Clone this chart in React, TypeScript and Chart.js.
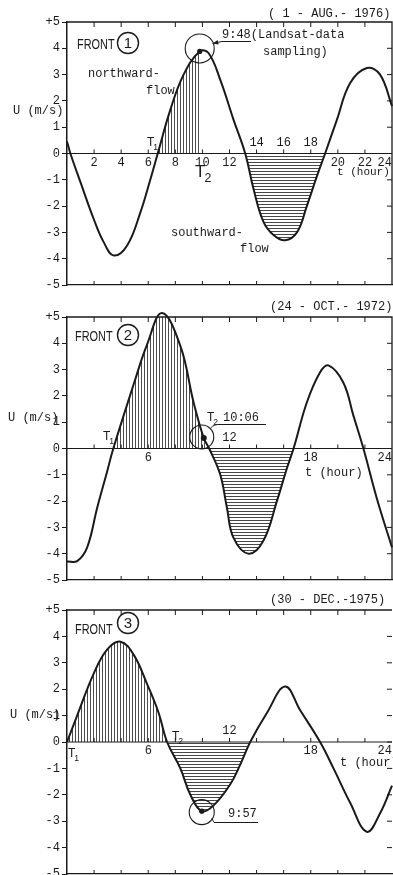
import React, { useEffect, useRef } from 'react';
import { Chart, registerables } from 'chart.js';

Chart.register(...registerables);

// ---------- DATA ----------
// FRONT 1 (1 - AUG. - 1976)
const hours1 = [0, 0.25, 1.0, 1.98, 2.71, 3.45, 4.44, 5.42, 6.16, 6.7, 7.63, 8.61, 9.8, 10.45, 11.32, 12.3, 13.16, 13.78, 14.51, 15.25, 16.1, 16.98, 17.71, 18.45, 19.06, 19.93, 20.9, 22.14, 23.12, 24.0];
const speed1 = [0.46, 0, -1.1, -2.5, -3.37, -3.88, -3.5, -2.24, -0.98, 0, 1.66, 3.0, 3.88, 3.82, 2.8, 1.28, 0, -1.36, -2.6, -3.1, -3.3, -3.0, -2.0, -0.87, 0, 1.28, 2.67, 3.25, 3.0, 1.8];
const north1: [number, number] = [6.7, 9.8];
const south1: [number, number] = [13.16, 19.06];
const landsatTime1 = 9.8;
const hourLabels1 = [2, 4, 6, 8, 10, 12, 14, 16, 18, 20, 22, 24];

// FRONT 2 (24 - OCT. - 1972)
const hours2 = [0, 0.75, 1.49, 2.23, 2.96, 3.42, 4.93, 5.91, 7.02, 8.37, 9.35, 10.1, 10.5, 11.32, 11.81, 12.3, 13.41, 14.51, 15.5, 16.24, 16.73, 17.71, 18.69, 19.31, 20.41, 21.15, 21.89, 22.88, 24.0];
const speed2 = [-4.3, -4.28, -3.76, -2.25, -0.88, 0, 2.45, 3.95, 5.15, 3.9, 1.75, 0.4, 0, -1.0, -2.25, -3.4, -4.0, -3.5, -2.0, -0.75, 0, 1.75, 2.9, 3.16, 2.5, 1.25, 0, -1.9, -3.76];
const north2: [number, number] = [3.42, 10.5];
const south2: [number, number] = [10.5, 16.73];
const landsatTime2 = 10.1;
const hourLabels2 = [6, 12, 18, 24];

// FRONT 3 (30 - DEC. - 1975)
const hours3 = [0, 0.75, 1.98, 2.96, 3.95, 4.93, 5.91, 6.77, 7.39, 8.37, 9.11, 9.95, 10.83, 12.06, 12.8, 13.53, 14.76, 16.11, 17.22, 18.69, 19.68, 20.91, 22.14, 23.12, 24.0];
const speed3 = [0, 1.0, 2.6, 3.5, 3.8, 3.3, 2.2, 1.1, 0, -1.0, -2.0, -2.62, -2.4, -1.6, -0.85, 0, 1.1, 2.1, 1.2, 0, -1.0, -2.3, -3.4, -2.7, -1.65];
const north3: [number, number] = [0, 7.39];
const south3: [number, number] = [7.39, 13.53];
const landsatTime3 = 9.95;
const hourLabels3 = [6, 12, 18, 24];

const hourTicks = [2, 4, 6, 8, 10, 12, 14, 16, 18, 20, 22];

// ---------- STYLE ----------
const MONO = '"Liberation Mono","DejaVu Sans Mono",monospace';
const SANS = '"Liberation Sans","DejaVu Sans",sans-serif';
const INK = '#1a1a1a';

type Ctx = CanvasRenderingContext2D;

function text(ctx: Ctx, s: string, x: number, y: number, size: number, family = MONO, align: CanvasTextAlign = 'left') {
  ctx.font = `${size}px ${family}`;
  ctx.textAlign = align;
  ctx.textBaseline = 'middle';
  ctx.fillText(s, x, y);
}

function tSub(ctx: Ctx, sub: string, x: number, y: number, size: number) {
  text(ctx, 'T', x, y, size, SANS);
  ctx.font = `${size}px ${SANS}`;
  const w = ctx.measureText('T').width;
  text(ctx, sub, x + w - 1, y + size * 0.38, size * 0.72, SANS);
}

function front(ctx: Ctx, x: number, y: number, n: string, cx: number, cy: number) {
  ctx.save();
  ctx.translate(x, y);
  ctx.scale(0.78, 1);
  text(ctx, 'FRONT', 0, 0, 14, SANS);
  ctx.restore();
  ctx.beginPath();
  ctx.arc(cx, cy, 10.5, 0, Math.PI * 2);
  ctx.lineWidth = 1.4;
  ctx.stroke();
  text(ctx, n, cx, cy + 1, 15, SANS, 'center');
}

function ring(ctx: Ctx, cx: number, cy: number, r: number, dx: number, dy: number, dotR: number) {
  ctx.beginPath();
  ctx.arc(cx + dx, cy + dy, r, 0, Math.PI * 2);
  ctx.lineWidth = 1.1;
  ctx.stroke();
  ctx.beginPath();
  ctx.arc(cx, cy, dotR, 0, Math.PI * 2);
  ctx.fill();
}

function line(ctx: Ctx, x1: number, y1: number, x2: number, y2: number, w = 1) {
  ctx.lineWidth = w;
  ctx.beginPath();
  ctx.moveTo(x1, y1);
  ctx.lineTo(x2, y2);
  ctx.stroke();
}

type Conv = { X: (t: number) => number; Y: (u: number) => number };

type Panel = {
  hours: number[];
  speed: number[];
  north: [number, number];
  south: [number, number];
  labels: number[];
  padTop: number;
  padBottom: number;
  rightBorder: boolean;
  annotate: (ctx: Ctx, c: Conv) => void;
};

const valueAt = (hours: number[], speed: number[], t: number) => speed[hours.indexOf(t)];

const panel1: Panel = {
  hours: hours1, speed: speed1, north: north1, south: south1, labels: hourLabels1,
  padTop: 22, padBottom: 10, rightBorder: true,
  annotate: (ctx, { X, Y }) => {
    text(ctx, '( 1 - AUG.- 1976)', 268, 14, 12);
    front(ctx, 77, 45, '1', 128, 43);
    text(ctx, 'northward-', 88, 74, 12);
    text(ctx, 'flow', 146, 91, 12);
    text(ctx, 'southward-', 171, 233, 12);
    text(ctx, 'flow', 240, 249, 12);
    text(ctx, 'U (m/s)', 13, 111, 12);
    text(ctx, 't (hour)', 337, 172, 11);
    tSub(ctx, '1', 147, 143, 12);
    tSub(ctx, '2', 195, 172, 17);
    const cx = X(landsatTime1), cy = Y(valueAt(hours1, speed1, landsatTime1));
    ring(ctx, cx, cy, 14.5, 0, -3, 2.6);
    text(ctx, '9:48(Landsat-data', 222, 35, 12);
    text(ctx, 'sampling)', 263, 52, 12);
    line(ctx, 222, 41.5, 251, 41.5, 1);
    const ax = cx + 13, ay = cy - 8;
    line(ctx, 222, 41.5, ax, ay, 1);
    const ang = Math.atan2(ay - 41.5, ax - 222);
    ctx.beginPath();
    ctx.moveTo(ax, ay);
    ctx.lineTo(ax - 6 * Math.cos(ang - 0.4), ay - 6 * Math.sin(ang - 0.4));
    ctx.lineTo(ax - 6 * Math.cos(ang + 0.4), ay - 6 * Math.sin(ang + 0.4));
    ctx.closePath();
    ctx.fill();
  },
};

const panel2: Panel = {
  hours: hours2, speed: speed2, north: north2, south: south2, labels: hourLabels2,
  padTop: 22, padBottom: 10, rightBorder: true,
  annotate: (ctx, { X, Y }) => {
    text(ctx, '(24 - OCT.- 1972)', 270, 12, 12);
    front(ctx, 75, 42, '2', 128, 40);
    text(ctx, 'U (m/s)', 8, 123, 12);
    text(ctx, 't (hour)', 305, 178, 12);
    tSub(ctx, '1', 103, 142, 12);
    tSub(ctx, '2', 207, 123, 12);
    text(ctx, '10:06', 223, 123, 12);
    const cx = X(landsatTime2), cy = Y(valueAt(hours2, speed2, landsatTime2));
    ring(ctx, cx, cy, 12, -2, -1, 3);
    line(ctx, 221, 129.5, 266, 129.5, 1);
    ctx.lineWidth = 1;
    ctx.beginPath();
    ctx.moveTo(cx + 7, cy - 10);
    ctx.quadraticCurveTo(cx + 10, cy - 14, 221, 129.5);
    ctx.stroke();
  },
};

const panel3: Panel = {
  hours: hours3, speed: speed3, north: north3, south: south3, labels: hourLabels3,
  padTop: 20, padBottom: 11, rightBorder: false,
  annotate: (ctx, { X, Y }) => {
    text(ctx, '(30 - DEC.-1975)', 270, 10, 12);
    front(ctx, 75, 40, '3', 128, 33);
    text(ctx, 'U (m/s)', 10, 125, 12);
    text(ctx, 't (hour)', 340, 173, 12);
    tSub(ctx, '1', 68, 164, 12);
    tSub(ctx, '2', 172, 147, 12);
    text(ctx, '9:57', 228, 224, 12);
    const cx = X(landsatTime3), cy = Y(valueAt(hours3, speed3, landsatTime3));
    ring(ctx, cx, cy, 12.5, 0, 1, 2.6);
    line(ctx, 214, 232.5, 258, 232.5, 1);
    ctx.lineWidth = 1;
    ctx.beginPath();
    ctx.moveTo(cx + 10, cy + 7);
    ctx.quadraticCurveTo(cx + 12, cy + 11, 214, 232.5);
    ctx.stroke();
  },
};

function makePattern(vertical: boolean): CanvasPattern {
  const c = document.createElement('canvas');
  c.width = 3;
  c.height = 3;
  const g = c.getContext('2d')!;
  g.fillStyle = vertical ? 'rgba(25,25,25,0.78)' : 'rgba(25,25,25,0.8)';
  if (vertical) g.fillRect(0, 0, 1, 3);
  else g.fillRect(0, 0, 3, 1);
  return g.createPattern(c, 'repeat')!;
}

function drawExtras(chart: Chart, p: Panel) {
  const { ctx, chartArea: a } = chart;
  const xs = chart.scales.x, ys = chart.scales.y;
  const X = (t: number) => xs.getPixelForValue(t);
  const Y = (u: number) => ys.getPixelForValue(u);
  const y0 = Y(0);
  ctx.save();
  ctx.strokeStyle = INK;
  ctx.fillStyle = INK;
  // top & right frame
  ctx.lineWidth = 1.3;
  ctx.beginPath();
  ctx.moveTo(a.left, a.top);
  ctx.lineTo(a.right, a.top);
  if (p.rightBorder) ctx.lineTo(a.right, a.bottom);
  ctx.stroke();
  // zero axis
  line(ctx, a.left, y0, a.right, y0, 1);
  // inner tick marks
  for (const t of hourTicks) {
    const x = X(t);
    line(ctx, x, a.top, x, a.top + 5, 1);
    line(ctx, x, a.bottom, x, a.bottom - 4, 1);
    line(ctx, x, y0, x, y0 - 4, 1);
  }
  for (const tk of ys.ticks) {
    if (tk.value === 5 || tk.value === -5) continue;
    const y = Y(tk.value);
    line(ctx, a.right - 5, y, a.right, y, 1);
  }
  // hour labels
  ctx.font = `12px ${MONO}`;
  for (const t of p.labels) {
    const s = String(t);
    const w = ctx.measureText(s).width;
    const x = Math.min(X(t), chart.width - w / 2 - 1);
    const above = t > p.south[0] && t < p.south[1];
    text(ctx, s, x, above ? y0 - 11 : y0 + 9, 12, MONO, 'center');
  }
  p.annotate(ctx, { X, Y });
  ctx.restore();
}

function PanelChart({ panel, top }: { panel: Panel; top: number }) {
  const ref = useRef<HTMLCanvasElement>(null);
  useEffect(() => {
    const canvas = ref.current!;
    const vPat = makePattern(true);
    const hPat = makePattern(false);
    const [n0, n1] = panel.north;
    const [s0, s1] = panel.south;
    const eps = 1e-6;
    const chart = new Chart(canvas, {
      type: 'line',
      data: {
        datasets: [
          {
            data: panel.hours.map((t, i) => ({ x: t, y: panel.speed[i] })),
            borderColor: INK,
            borderWidth: 2,
            pointRadius: 0,
            tension: 0.4,
            fill: 'origin',
            backgroundColor: 'rgba(0,0,0,0)',
            clip: false,
            segment: {
              backgroundColor: (c: any) => {
                const ta = panel.hours[c.p0DataIndex];
                const tb = panel.hours[c.p1DataIndex];
                if (ta >= n0 - eps && tb <= n1 + eps) return vPat;
                if (ta >= s0 - eps && tb <= s1 + eps) return hPat;
                return 'rgba(0,0,0,0)';
              },
            },
          } as any,
        ],
      },
      options: {
        responsive: false,
        animation: false,
        devicePixelRatio: 1,
        events: [],
        layout: { padding: { left: 0, right: 1, top: panel.padTop, bottom: panel.padBottom } },
        plugins: { legend: { display: false }, tooltip: { enabled: false } },
        scales: {
          x: {
            type: 'linear',
            min: 0,
            max: 24,
            position: 'bottom',
            ticks: { display: false, stepSize: 2 },
            grid: { display: false, drawTicks: false },
            border: { display: true, color: INK, width: 1.3 },
          },
          y: {
            type: 'linear',
            min: -5,
            max: 5,
            ticks: {
              stepSize: 1,
              padding: 2,
              color: INK,
              font: { family: MONO, size: 12 },
              callback: (v: any) => (Number(v) === 5 ? '+5' : String(v)),
            },
            grid: { drawOnChartArea: false, drawTicks: true, tickLength: 5, color: INK, lineWidth: 1 },
            border: { display: true, color: INK, width: 1.5 },
            afterFit: (s: any) => {
              s.width = 67;
            },
          },
        },
      },
      plugins: [{ id: 'extras', afterDraw: (ch: Chart) => drawExtras(ch, panel) }],
    });
    return () => chart.destroy();
  }, [panel]);
  return (
    <canvas
      ref={ref}
      width={393}
      height={295}
      style={{ position: 'absolute', left: 0, top, width: 393, height: 295, display: 'block' }}
    />
  );
}

export default function App() {
  return (
    <div style={{ position: 'absolute', left: 0, top: 0, width: 393, height: 875, overflow: 'hidden', background: '#fff' }}>
      <PanelChart panel={panel1} top={0} />
      <PanelChart panel={panel2} top={295} />
      <PanelChart panel={panel3} top={590} />
    </div>
  );
}
